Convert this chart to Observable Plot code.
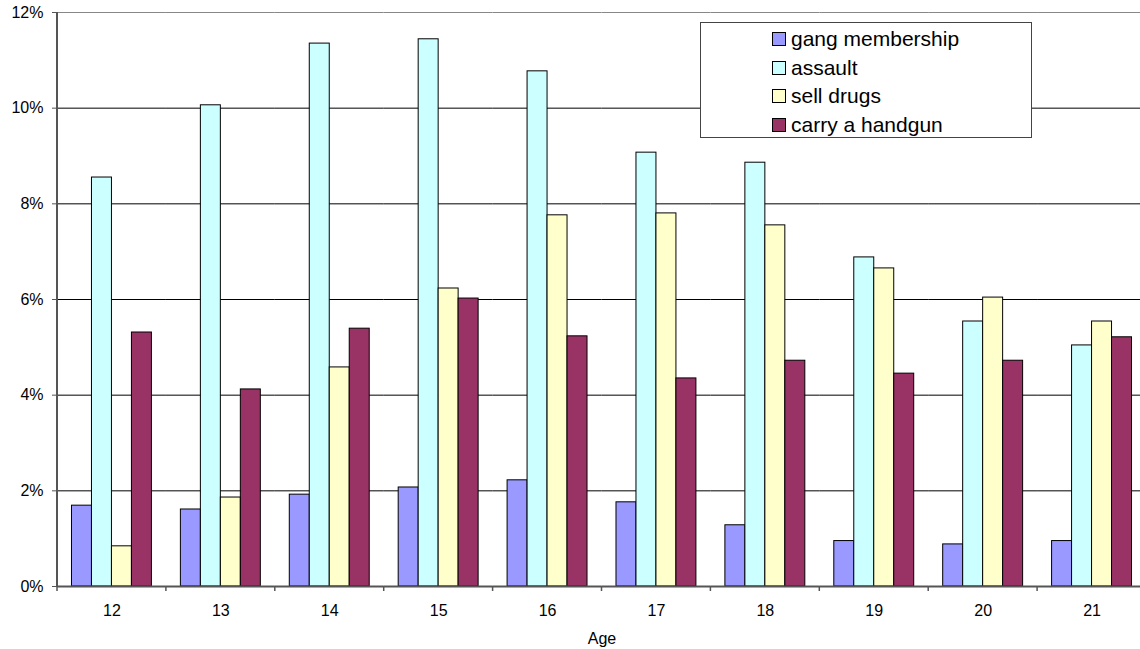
<!DOCTYPE html>
<html>
<head>
<meta charset="utf-8">
<script src="https://cdn.jsdelivr.net/npm/d3@7"></script>
<script src="https://cdn.jsdelivr.net/npm/@observablehq/plot@0.6"></script>
<style>
  html, body { margin: 0; padding: 0; background: #fff; overflow: hidden; }
  #wrap { position: relative; width: 1140px; height: 649px; font-family: "Liberation Sans", Arial, sans-serif; }
  #legend { position: absolute; left: 700px; top: 22px; width: 332px; height: 116px; border: 1px solid #444; background: #fff; box-sizing: border-box; }
  .item { position: absolute; left: 71px; height: 26px; display: flex; align-items: center; font-size: 21px; color: #000; white-space: nowrap; }
  .sw { width: 14px; height: 14px; border: 1px solid #000; box-sizing: border-box; margin-right: 5px; }
</style>
</head>
<body>
<div id="wrap"><div id="legend"></div></div>
<script>
const ages = [12, 13, 14, 15, 16, 17, 18, 19, 20, 21];
const seriesNames = ["gang membership", "assault", "sell drugs", "carry a handgun"];
const seriesColors = ["#9999ff", "#ccffff", "#ffffcc", "#993366"];
const gang = [1.69, 1.61, 1.92, 2.07, 2.22, 1.76, 1.28, 0.95, 0.88, 0.95];
const assault = [8.55, 10.06, 11.35, 11.44, 10.77, 9.07, 8.86, 6.88, 5.54, 5.04];
const drugs = [0.84, 1.86, 4.58, 6.23, 7.76, 7.80, 7.55, 6.65, 6.04, 5.54];
const handgun = [5.31, 4.12, 5.39, 6.02, 5.23, 4.35, 4.72, 4.45, 4.72, 5.21];
const yTicks = [0, 2, 4, 6, 8, 10, 12];

const seriesValues = [gang, assault, drugs, handgun];
const data = [];
ages.forEach((a, i) => seriesNames.forEach((s, j) => data.push({age: a, series: s, value: seriesValues[j][i]})));

const chart = Plot.plot({
  width: 1140,
  height: 649,
  marginLeft: 57,
  marginRight: -6,
  marginTop: 12,
  marginBottom: 63,
  style: {fontFamily: "'Liberation Sans', Arial, sans-serif", fontSize: "16px", color: "#000", background: "transparent"},
  fx: {domain: ages, padding: 0, round: false},
  x: {domain: seriesNames, paddingInner: 0, paddingOuter: 0.725, round: false, axis: null},
  y: {domain: [0, 12], axis: null},
  color: {domain: seriesNames, range: seriesColors},
  marks: [
    Plot.ruleY(yTicks.filter(d => d > 0 && d < 12), {stroke: "#000", strokeWidth: 1}),
    Plot.ruleY([12], {stroke: "#888", strokeWidth: 1}),
    Plot.barY(data, {fx: "age", x: "series", y: "value", fill: "series", stroke: "#000", strokeWidth: 1}),
    Plot.ruleY([0], {stroke: "#555", strokeWidth: 2}),
    Plot.axisY({ticks: yTicks, tickFormat: d => d + "%", tickSize: 5, tickPadding: 9, fontSize: 16, label: null, stroke: "#555"}),
    Plot.axisFx({anchor: "bottom", tickSize: 0, tickPadding: 18, fontSize: 16, label: "Age", labelAnchor: "center", labelOffset: 57})
  ]
});

// Axis line and group-boundary ticks, positioned from the library's own scales
const fx = chart.scale("fx");
const ys = chart.scale("y");
const svg = d3.select(chart);
const y0 = ys.apply(0), yTop = ys.apply(12);
const bounds = ages.map(a => fx.apply(a)).concat([fx.range[1]]);
const g = svg.append("g").attr("stroke", "#555");
g.append("line").attr("x1", fx.range[0]).attr("x2", fx.range[0]).attr("y1", yTop).attr("y2", y0 + 1).attr("stroke-width", 2);
bounds.forEach(b => g.append("line").attr("x1", b).attr("x2", b).attr("y1", y0).attr("y2", y0 + 5).attr("stroke-width", 1.5));

document.getElementById("wrap").prepend(chart);

const legend = document.getElementById("legend");
seriesNames.forEach((s, i) => {
  const it = document.createElement("div");
  it.className = "item";
  it.style.top = (3 + i * 28.7) + "px";
  const sw = document.createElement("span");
  sw.className = "sw";
  sw.style.background = seriesColors[i];
  it.appendChild(sw);
  it.appendChild(document.createTextNode(s));
  legend.appendChild(it);
});
</script>
</body>
</html>
